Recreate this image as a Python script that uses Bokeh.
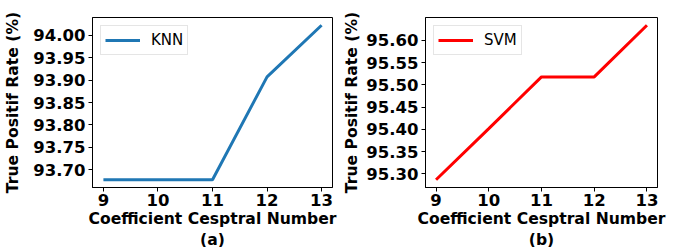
from bokeh.plotting import figure
from bokeh.layouts import row
from bokeh.models import Range1d, FixedTicker, NumeralTickFormatter, Title, Legend, LegendItem
from bokeh.embed import file_html
from bokeh.resources import INLINE

x_vals = [9, 10, 11, 12, 13]
knn_tpr = [93.678, 93.678, 93.678, 93.907, 94.022]
svm_tpr = [95.287, 95.402, 95.518, 95.518, 95.634]
knn_ticks = [93.70, 93.75, 93.80, 93.85, 93.90, 93.95, 94.00]
svm_ticks = [95.30, 95.35, 95.40, 95.45, 95.50, 95.55, 95.60]

FONT = "DejaVu Sans"


def panel(ys, ticks, color, name, sub, width, bl, br, ylab_standoff):
    lo, hi = min(ys), max(ys)
    pad = (hi - lo) * 0.05
    p = figure(width=width, height=247, output_backend="svg", toolbar_location=None,
               x_range=Range1d(8.8, 13.2), y_range=Range1d(lo - pad, hi + pad),
               min_border_left=bl, min_border_right=br, min_border_top=17, min_border_bottom=60)
    r = p.line(x_vals, ys, line_color=color, line_width=3)
    p.xgrid.visible = False
    p.ygrid.visible = False
    p.outline_line_color = "black"
    p.outline_line_width = 1
    p.xaxis.ticker = FixedTicker(ticks=x_vals)
    p.yaxis.ticker = FixedTicker(ticks=ticks)
    p.yaxis.formatter = NumeralTickFormatter(format="0.00")
    for ax in (p.xaxis[0], p.yaxis[0]):
        ax.major_label_text_font = FONT
        ax.major_label_text_font_style = "bold"
        ax.major_label_text_font_size = "16.5px"
        ax.major_label_text_color = "black"
        ax.axis_label_text_font = FONT
        ax.axis_label_text_font_style = "bold"
        ax.axis_label_text_font_size = "15.6px"
        ax.axis_label_text_color = "black"
        ax.minor_tick_line_color = None
        ax.major_tick_out = 4
        ax.major_tick_in = 0
        ax.axis_line_color = "black"
        ax.major_tick_line_color = "black"
    p.xaxis.major_label_standoff = 2
    p.yaxis.major_label_standoff = 3
    p.xaxis.axis_label = "Coefficient Cesptral Number"
    p.yaxis.axis_label = "True Positif Rate (%)"
    p.xaxis.axis_label_standoff = 1
    p.yaxis.axis_label_standoff = ylab_standoff
    leg = Legend(items=[LegendItem(label=name, renderers=[r])], location="top_left")
    leg.label_text_font = FONT
    leg.label_text_font_size = "15px"
    leg.label_text_color = "black"
    leg.glyph_width = 35
    leg.glyph_height = 20
    leg.label_height = 20
    leg.label_standoff = 11
    leg.padding = 4
    leg.margin = 8
    leg.border_line_color = "#cccccc"
    leg.border_line_width = 1
    p.add_layout(leg, "center")
    t = Title(text=sub, align="center", text_font=FONT, text_font_style="bold",
              text_font_size="15.6px", text_color="black", offset=0, standoff=-4)
    p.add_layout(t, "below")
    return p


p1 = panel(knn_tpr, knn_ticks, "#1f77b4", "KNN", "(a)", 340, 92, 8, 8)
p2 = panel(svm_tpr, svm_ticks, "red", "SVM", "(b)", 339, 77, 22, 2)
p = row(p1, p2)

open("out.html", "w").write(file_html(p, INLINE))
